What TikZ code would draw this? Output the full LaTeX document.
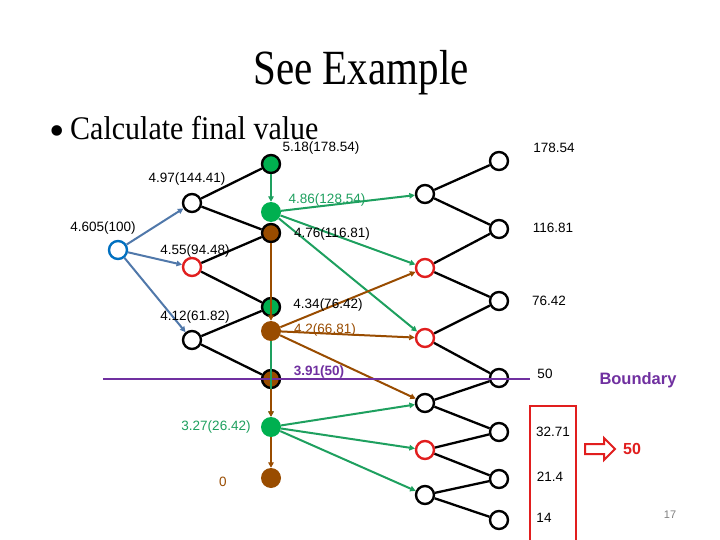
\documentclass[tikz,border=0pt]{standalone}
\usepackage{fontspec}
\setmainfont{Liberation Serif}
\setsansfont{Liberation Sans}
\usetikzlibrary{arrows.meta}
\definecolor{mygreen}{RGB}{0,176,80}
\definecolor{edgegreen}{RGB}{30,160,95}
\definecolor{mybrown}{RGB}{153,76,0}
\definecolor{myblue}{RGB}{0,112,192}
\definecolor{bluegray}{RGB}{80,120,170}
\definecolor{myred}{RGB}{225,30,30}
\definecolor{mypurple}{RGB}{112,48,160}
\begin{document}
\begin{tikzpicture}[x=1pt,y=-1pt,
 onode/.style={circle,draw=black,line width=2.4pt,fill=white,minimum size=18pt,inner sep=0pt},
 rnode/.style={onode,draw=myred},
 bnode/.style={onode,draw=myblue},
 gbnode/.style={onode,fill=mygreen},
 brbnode/.style={onode,fill=mybrown},
 gnode/.style={circle,fill=mygreen,minimum size=20pt,inner sep=0pt},
 brnode/.style={circle,fill=mybrown,minimum size=20pt,inner sep=0pt},
 lbl/.style={font=\sffamily\fontsize{13.5}{14}\selectfont,inner sep=0pt},
 blk/.style={line width=2.3pt,black},
 tip/.style={-{Triangle[length=5.5pt,width=5.5pt]}},
 garr/.style={line width=2pt,edgegreen,tip},
 brarr/.style={line width=2pt,mybrown,tip},
 barr/.style={line width=2pt,bluegray,tip},
]
\useasboundingbox (0,0) rectangle (720,540);
\fill[white] (0,0) rectangle (720,540);
% title
\node[anchor=base,inner sep=0pt] (title) at (361,85) {\scalebox{1}[1.2]{\fontsize{41}{41}\selectfont See Example}};
\node[anchor=base west,inner sep=0pt] (bul) at (70,140) {\scalebox{1}[1.1]{\fontsize{30}{30}\selectfont Calculate final value}};
\node[inner sep=0pt] (dot) at (57,136) {\fontsize{44}{44}\selectfont •};
% nodes
\node[bnode] (r) at (118,250) {};
\node[onode] (a1) at (192,203) {};
\node[rnode] (a2) at (192,267) {};
\node[onode] (a3) at (192,340) {};
\node[gbnode] (b1) at (271,164) {};
\node[brbnode] (b2) at (271,233) {};
\node[gbnode] (b3) at (271,307) {};
\node[brbnode] (b4) at (271,379) {};
\node[gnode] (c1) at (271,212) {};
\node[brnode] (c2) at (271,331) {};
\node[gnode] (c3) at (271,427) {};
\node[brnode] (c4) at (271,478) {};
\node[onode] (d1) at (425,194) {};
\node[rnode] (d2) at (425,268) {};
\node[rnode] (d3) at (425,338) {};
\node[onode] (d4) at (425,403) {};
\node[rnode] (d5) at (425,450) {};
\node[onode] (d6) at (425,495) {};
\node[onode] (e1) at (499,161) {};
\node[onode] (e2) at (499,229) {};
\node[onode] (e3) at (499,301) {};
\node[onode] (e4) at (499,378) {};
\node[onode] (e5) at (499,432) {};
\node[onode] (e6) at (499,479) {};
\node[onode] (e7) at (499,520) {};
% black edges
\draw[blk] (a1) -- (b1); \draw[blk] (a1) -- (b2);
\draw[blk] (a2) -- (b2); \draw[blk] (a2) -- (b3);
\draw[blk] (a3) -- (b3); \draw[blk] (a3) -- (b4);
\draw[blk] (d1) -- (e1); \draw[blk] (d1) -- (e2);
\draw[blk] (d2) -- (e2); \draw[blk] (d2) -- (e3);
\draw[blk] (d3) -- (e3); \draw[blk] (d3) -- (e4);
\draw[blk] (d4) -- (e4); \draw[blk] (d4) -- (e5);
\draw[blk] (d5) -- (e5); \draw[blk] (d5) -- (e6);
\draw[blk] (d6) -- (e6); \draw[blk] (d6) -- (e7);
% root arrows
\draw[barr] (r) -- (a1);
\draw[barr] (r) -- (a2);
\draw[barr] (r) -- (a3);
% green / brown arrows
\draw[garr] (c1) -- (d1);
\draw[garr] (c1) -- (d2);
\draw[garr] (c1) -- (d3);
\draw[brarr] (c2) -- (d2);
\draw[brarr] (c2) -- (d3);
\draw[brarr] (c2) -- (d4);
\draw[garr] (c3) -- (d4);
\draw[garr] (c3) -- (d5);
\draw[garr] (c3) -- (d6);
% boundary line
\coordinate (p1) at (103,379);
\coordinate (p2) at (530,379);
\draw[mypurple,line width=2.5pt] (p1) -- (p2);
% vertical arrows
\draw[garr] (b1) -- (c1);
\draw[brarr] (b2.south) -- (c2.north);
\draw[garr] (c2.south) -- (c3.north);
\draw[brarr] (b4.south) -- (c3.north);
\draw[brarr] (c3) -- (c4);
% labels
\node[lbl] (l1) at (321,148) {5.18(178.54)};
\node[lbl] (l2) at (187,179) {4.97(144.41)};
\node[lbl,text=edgegreen] (l3) at (327,200) {4.86(128.54)};
\node[lbl] (l4) at (103,228) {4.605(100)};
\node[lbl] (l5) at (332,234) {4.76(116.81)};
\node[lbl] (l6) at (195,251) {4.55(94.48)};
\node[lbl] (l7) at (195,317) {4.12(61.82)};
\node[lbl] (l8) at (328,305) {4.34(76.42)};
\node[lbl,text=mybrown] (l9) at (325,330) {4.2(66.81)};
\node[lbl,text=mypurple,font=\sffamily\bfseries\fontsize{13.5}{14}\selectfont] (l10) at (319,372) {3.91(50)};
\node[lbl,text=edgegreen] (l11) at (216,427) {3.27(26.42)};
\node[lbl,text=mybrown] (l12) at (223,482) {0};
\node[lbl] (v1) at (554,148) {178.54};
\node[lbl] (v2) at (553,228) {116.81};
\node[lbl] (v3) at (549,301) {76.42};
\node[lbl] (v4) at (545,374) {50};
\node[lbl] (v5) at (553,432) {32.71};
\node[lbl] (v6) at (550,477) {21.4};
\node[lbl] (v7) at (544,518) {14};
\node[text=mypurple,font=\sffamily\bfseries\fontsize{16.5}{17}\selectfont,inner sep=0pt] (bd) at (638,380) {Boundary};
% red box and arrow
\draw[myred,line width=2.5pt] (530,406) rectangle (576,560);
\draw[myred,line width=2pt,fill=white] (585,444) -- (604,444) -- (604,438) -- (615,449) -- (604,460) -- (604,454) -- (585,454) -- cycle;
\node[text=myred,font=\sffamily\bfseries\fontsize{16}{17}\selectfont,inner sep=0pt] (fifty) at (632,449) {50};
\node[text=gray,font=\sffamily\fontsize{11}{12}\selectfont,inner sep=0pt] (pg) at (670,515) {17};
\end{tikzpicture}
\end{document}
